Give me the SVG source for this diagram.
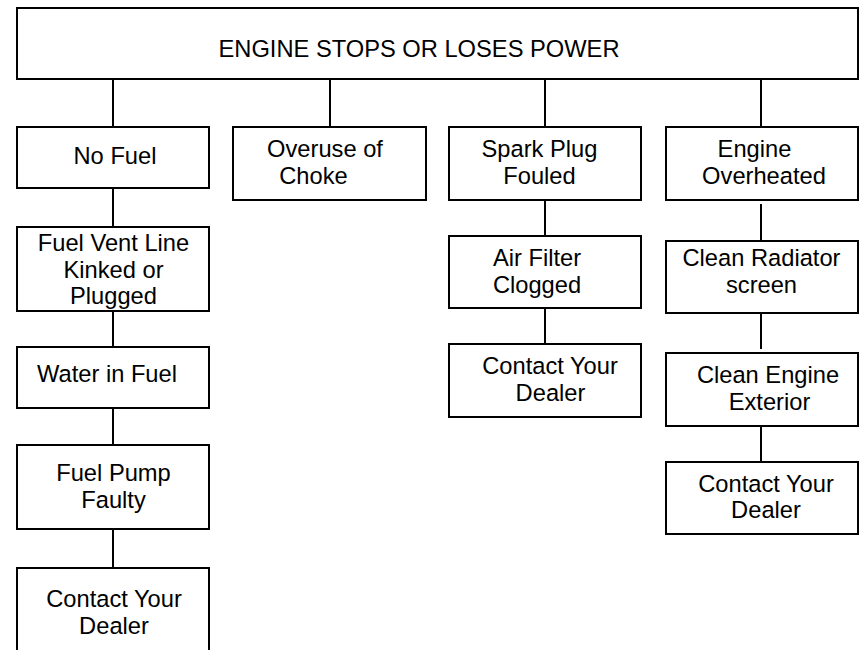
<svg xmlns="http://www.w3.org/2000/svg" width="865" height="650" viewBox="0 0 865 650">
<style>
.box{fill:#fff;stroke:#000;stroke-width:2}
.ln{stroke:#000;stroke-width:2;fill:none}
text{font-family:"Liberation Sans",Arial,sans-serif;font-size:23.7px;fill:#000;text-anchor:middle}
</style>
<rect width="865" height="650" fill="#fff"/>
<g id="connectors">
<line class="ln" x1="113" y1="79" x2="113" y2="127"/>
<line class="ln" x1="330" y1="79" x2="330" y2="127"/>
<line class="ln" x1="545" y1="79" x2="545" y2="127"/>
<line class="ln" x1="761" y1="79" x2="761" y2="127"/>
<line class="ln" x1="113" y1="188" x2="113" y2="227"/>
<line class="ln" x1="113" y1="311" x2="113" y2="347"/>
<line class="ln" x1="113" y1="408" x2="113" y2="445"/>
<line class="ln" x1="113" y1="529" x2="113" y2="568"/>
<line class="ln" x1="545" y1="200" x2="545" y2="236"/>
<line class="ln" x1="545" y1="308" x2="545" y2="344"/>
<line class="ln" x1="761" y1="204" x2="761" y2="241"/>
<line class="ln" x1="761" y1="313" x2="761" y2="349"/>
<line class="ln" x1="761" y1="426" x2="761" y2="462"/>
</g>
<g id="title"><rect class="box" x="17" y="8" width="841" height="71"/><text x="419" y="57">ENGINE STOPS OR LOSES POWER</text></g>
<g id="nofuel"><rect class="box" x="17" y="127" width="192" height="61"/><text x="115" y="164">No Fuel</text></g>
<g id="overuse"><rect class="box" x="233" y="127" width="193" height="73"/><text x="325" y="157">Overuse of</text><text x="313.5" y="184">Choke</text></g>
<g id="spark"><rect class="box" x="449" y="127" width="192" height="73"/><text x="539.5" y="157">Spark Plug</text><text x="539.5" y="184">Fouled</text></g>
<g id="overheated"><rect class="box" x="666" y="127" width="192" height="73"/><text x="754.5" y="157">Engine</text><text x="764" y="184">Overheated</text></g>
<g id="ventline"><rect class="box" x="17" y="227" width="192" height="84"/><text x="113.5" y="251">Fuel Vent Line</text><text x="113.5" y="277.5">Kinked or</text><text x="113.5" y="304">Plugged</text></g>
<g id="water"><rect class="box" x="17" y="347" width="192" height="61"/><text x="107" y="382">Water in Fuel</text></g>
<g id="pump"><rect class="box" x="17" y="445" width="192" height="84"/><text x="113.5" y="481">Fuel Pump</text><text x="113.5" y="508">Faulty</text></g>
<g id="contact1"><rect class="box" x="17" y="568" width="192" height="90"/><text x="114" y="606.5">Contact Your</text><text x="114" y="633.5">Dealer</text></g>
<g id="airfilter"><rect class="box" x="449" y="236" width="192" height="72"/><text x="537" y="266">Air Filter</text><text x="537" y="292.5">Clogged</text></g>
<g id="contact2"><rect class="box" x="449" y="344" width="192" height="73"/><text x="550" y="374">Contact Your</text><text x="550.5" y="401">Dealer</text></g>
<g id="radiator"><rect class="box" x="666" y="241" width="192" height="72"/><text x="761.5" y="265.5">Clean Radiator</text><text x="761.5" y="292.5">screen</text></g>
<g id="exterior"><rect class="box" x="666" y="353" width="192" height="73"/><text x="768" y="383">Clean Engine</text><text x="769.5" y="410">Exterior</text></g>
<g id="contact3"><rect class="box" x="666" y="462" width="192" height="72"/><text x="766" y="491.5">Contact Your</text><text x="766" y="518">Dealer</text></g>
</svg>
